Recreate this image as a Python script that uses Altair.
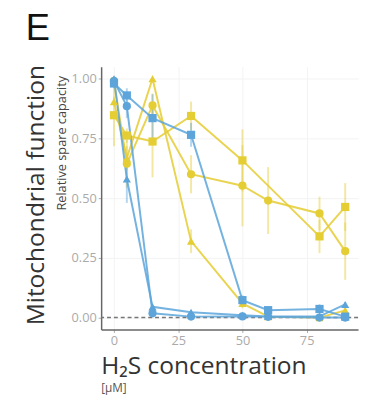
import altair as alt
import pandas as pd

# ---- data ----
x_all = [0, 5, 15, 30, 50, 60, 80, 90]
x_ysq = [0, 5, 15, 30, 50, 80, 90]

blue_square = [0.98, 0.93, 0.835, 0.765, 0.073, 0.031, 0.036, 0.004]
blue_square_err = [0.02, 0.03, 0.10, 0.05, 0.02, 0.01, 0.02, 0.01]
blue_circle = [0.99, 0.885, 0.018, 0.004, 0.005, 0.003, 0.0, 0.0]
blue_circle_err = [0.01, 0.05, 0.01, 0.01, 0.01, 0.0, 0.0, 0.0]
blue_triangle = [1.0, 0.58, 0.045, 0.022, 0.010, 0.005, 0.005, 0.055]
blue_triangle_err = [0.01, 0.10, 0.01, 0.01, 0.0, 0.0, 0.0, 0.01]

yellow_square = [0.847, 0.762, 0.737, 0.844, 0.658, 0.34, 0.463]
yellow_square_err = [0.13, 0.03, 0.15, 0.06, 0.13, 0.07, 0.10]
yellow_circle = [0.99, 0.644, 0.888, 0.60, 0.552, 0.49, 0.436, 0.278]
yellow_circle_err = [0.01, 0.10, 0.05, 0.08, 0.17, 0.14, 0.07, 0.12]
yellow_triangle = [0.904, 0.668, 1.0, 0.32, 0.059, 0.004, 0.0, 0.03]
yellow_triangle_err = [0.02, 0.05, 0.0, 0.05, 0.02, 0.0, 0.0, 0.01]

groups = ["yellow", "blue"]
group_colors = ["#E5CD34", "#5CA4DA"]
kinds = ["circle", "square", "triangle"]
kind_shapes = ["circle", "square", "triangle-up"]

series = [
    ("yellow", "square", x_ysq, yellow_square, yellow_square_err),
    ("yellow", "circle", x_all, yellow_circle, yellow_circle_err),
    ("yellow", "triangle", x_all, yellow_triangle, yellow_triangle_err),
    ("blue", "square", x_all, blue_square, blue_square_err),
    ("blue", "circle", x_all, blue_circle, blue_circle_err),
    ("blue", "triangle", x_all, blue_triangle, blue_triangle_err),
]

rows = []
for order, (g, k, xs, ys, es) in enumerate(series):
    for x, y, e in zip(xs, ys, es):
        rows.append({"group": g, "kind": k, "series": f"{g}-{k}", "order": order,
                     "x": x, "y": y, "lo": y - e, "hi": y + e})
df = pd.DataFrame(rows)

font = "Open Sans"

xs = alt.Scale(domain=[-5, 95], nice=False, zero=False)
ys = alt.Scale(domain=[-0.05, 1.05], nice=False, zero=False)
cs = alt.Scale(domain=groups, range=group_colors)
ss = alt.Scale(domain=kinds, range=kind_shapes)

base = alt.Chart(df)

x_enc = alt.X("x:Q", scale=xs, axis=alt.Axis(values=[0, 25, 50, 75], title=None))
y_enc = alt.Y("y:Q", scale=ys, axis=alt.Axis(values=[0, 0.25, 0.5, 0.75, 1.0], format=".2f", title=None))

zero_line = alt.Chart(pd.DataFrame({"z": [0]})).mark_rule(
    color="#777", strokeDash=[4, 3], strokeWidth=1.5
).encode(y=alt.Y("z:Q", scale=ys))

errs = base.mark_rule(strokeWidth=2, opacity=0.45).encode(
    x=x_enc, y=alt.Y("lo:Q", scale=ys), y2="hi:Q",
    color=alt.Color("group:N", scale=cs, legend=None),
    detail="series:N",
)

lines = base.mark_line(strokeWidth=2, opacity=0.85).encode(
    x=x_enc, y=y_enc,
    color=alt.Color("group:N", scale=cs, legend=None),
    detail="series:N",
)

points = base.mark_point(filled=True, size=70, opacity=1).encode(
    x=x_enc, y=y_enc,
    color=alt.Color("group:N", scale=cs, legend=None),
    shape=alt.Shape("kind:N", scale=ss, legend=None),
)

one = pd.DataFrame({"a": [0]})

def label(txt, x, y, size, color="#222", angle=0, align="left", weight="normal", fnt=font):
    return alt.Chart(one).mark_text(
        text=txt, fontSize=size, color=color, angle=angle, align=align,
        baseline="alphabetic", font=fnt, fontWeight=weight,
    ).encode(x=alt.value(x), y=alt.value(y))

panel = label("E", -77, -27, 37, color="#111", fnt="Liberation Sans")
ytitle = label("Mitochondrial function", -58, 131, 25, color="#333", angle=270, align="center")
ysub = label("Relative spare capacity", -36, 78, 13, color="#444", angle=270, align="center")
xtitle = label("H₂S concentration", 0, 313, 25, color="#333")
xunit = label("[μM]", 0, 332, 12, color="#555")

chart = alt.layer(
    zero_line, errs, lines, points, panel, ytitle, ysub, xtitle, xunit
).properties(
    width=262, height=268,
    autosize=alt.AutoSizeParams(type="none"),
    padding={"left": 95, "top": 56, "right": 2, "bottom": 70},
).configure_view(stroke=None).configure_axis(
    domainColor="#666", domainWidth=1.5, labelColor="#aaa", labelFont=font,
    labelFontSize=13, tickColor="#aaa", tickSize=3, gridColor="#f3f3f3",
    labelPadding=2,
)

chart.save("out.html", embed_options={"renderer": "svg", "actions": False})
